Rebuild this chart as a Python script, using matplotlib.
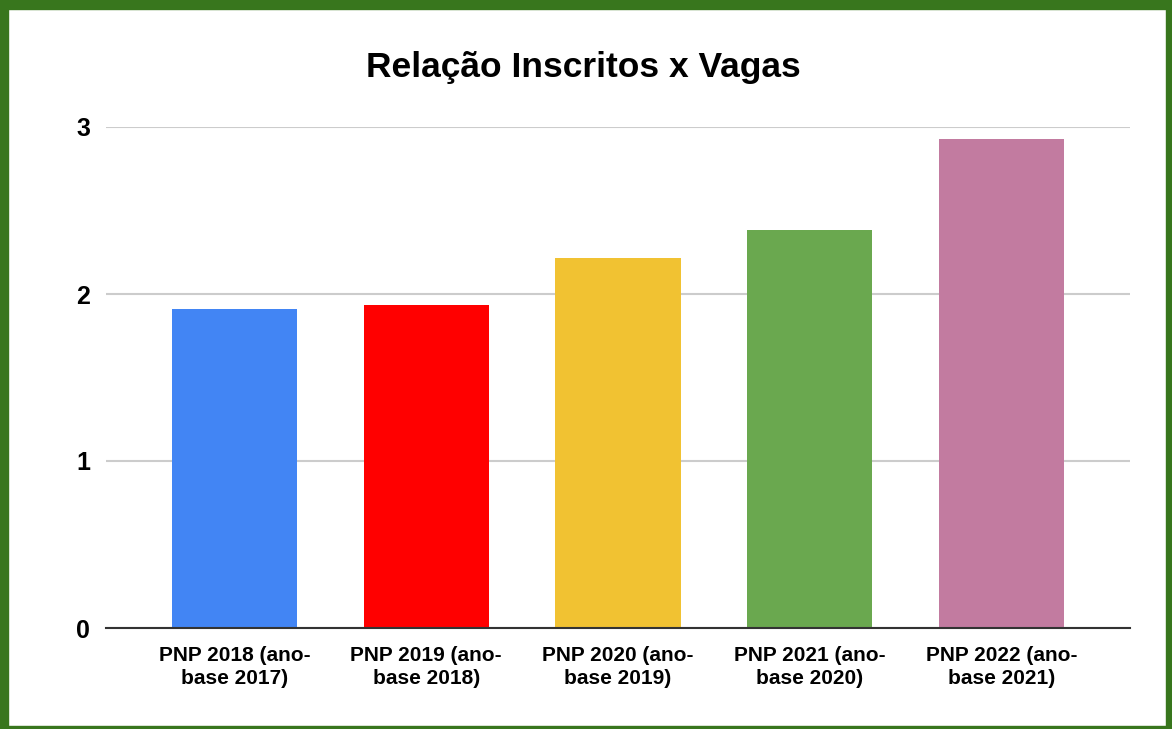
import matplotlib.pyplot as plt
from matplotlib.patches import Rectangle

# data
categorias = ['PNP 2018 (ano-\nbase 2017)', 'PNP 2019 (ano-\nbase 2018)', 'PNP 2020 (ano-\nbase 2019)',
              'PNP 2021 (ano-\nbase 2020)', 'PNP 2022 (ano-\nbase 2021)']
valores = [1.91, 1.935, 2.215, 2.385, 2.93]
cores = ['#4285f4', '#ff0000', '#f1c232', '#6aa84f', '#c27ba0']

plt.rcParams['font.family'] = ['Liberation Sans', 'DejaVu Sans']

W, H = 1172, 729
fig = plt.figure(figsize=(W / 100, H / 100), dpi=100)
ax = fig.add_axes([106 / W, 1 - 628 / H, (1130 - 106) / W, (628 - 127) / H])

x = range(len(categorias))
ax.bar(x, valores, width=0.652, color=cores, zorder=3)

ax.set_xlim(-0.67, 4.67)
ax.set_ylim(0, 3)
ax.set_yticks([0, 1, 2, 3])
ax.set_yticklabels(['0', '1', '2', '3'], fontsize=18, fontweight='bold')
ax.set_xticks(list(x))
ax.set_xticklabels(categorias, fontsize=15, fontweight='bold', linespacing=1.27)
ax.tick_params(axis='both', length=0)
ax.tick_params(axis='y', pad=11.5)
ax.tick_params(axis='x', pad=13)

ax.grid(axis='y', color='#cccccc', linewidth=1.5, zorder=0)
ax.set_axisbelow(True)
for s in ['top', 'right', 'left']:
    ax.spines[s].set_visible(False)
ax.spines['bottom'].set_color('#333333')
ax.spines['bottom'].set_linewidth(1.5)
ax.spines['bottom'].set_zorder(4)

fig.text(583 / W, 1 - 77 / H, 'Relação Inscritos x Vagas', ha='center', va='baseline',
         fontsize=25.5, fontweight='bold')

# moldura verde (espessura diferente em cada lado)
verde = '#38761d'
for (x0, y0, w, h) in [(0, 0, W, 9), (0, 0, 8, H), (W - 6, 0, 6, H), (0, H - 3, W, 3)]:
    fig.patches.append(Rectangle((x0 / W, 1 - (y0 + h) / H), w / W, h / H,
                                 transform=fig.transFigure, color=verde, zorder=10))

fig.savefig('out.png', dpi=100)
